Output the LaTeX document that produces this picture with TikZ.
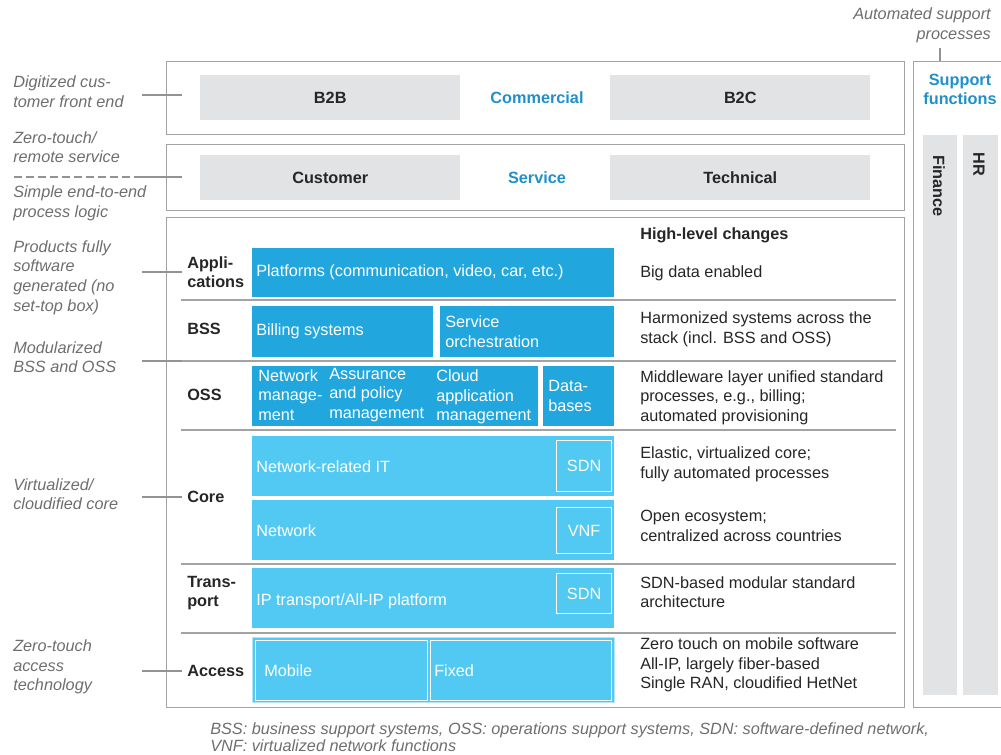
\documentclass[tikz,border=0pt]{standalone}
\usepackage{fontspec}
\setmainfont{Liberation Sans}
\usepackage{tikz}
\usetikzlibrary{positioning,calc}

\definecolor{darkblue}{HTML}{21A6DD}
\definecolor{lightblue}{HTML}{52C9F3}
\definecolor{paleblue}{HTML}{B4E6F8}
\definecolor{boxgrey}{HTML}{E1E3E4}
\definecolor{headblue}{HTML}{2190C9}
\definecolor{framegrey}{HTML}{A3A3A3}
\definecolor{notegrey}{HTML}{6E6E6E}
\definecolor{textblack}{HTML}{262626}

\newcommand{\basefont}{\fontsize{12.2}{14.7}\selectfont}

\tikzset{
  boxsize/.style 2 args={minimum width=#1*0.75pt, minimum height=#2*0.75pt},
  frame/.style={draw=framegrey, line width=0.9pt, anchor=north west, inner sep=0pt},
  greybox/.style={fill=boxgrey, anchor=north west, inner sep=0pt, font=\basefont\bfseries, text=textblack},
  darkbox/.style={fill=darkblue, anchor=north west, inner sep=0pt},
  lightbox/.style={fill=lightblue, anchor=north west, inner sep=0pt},
  tagbox/.style={draw=white, line width=0.9pt, anchor=north west, inner sep=0pt, text=white, font=\basefont},
  boxtext/.style={anchor=west, inner sep=0pt, align=left, text=white, font=\basefont},
  rowlabel/.style={anchor=west, inner xsep=3.75pt, inner ysep=0pt, align=left, font=\basefont\bfseries, text=textblack},
  note/.style={anchor=west, inner sep=0pt, align=left, font=\basefont\itshape, text=notegrey},
  change/.style={anchor=west, inner sep=0pt, align=left, font=\basefont, text=textblack},
  head/.style={inner sep=0pt, align=center, font=\basefont\bfseries, text=headblue},
  leader/.style={draw=framegrey!90!black, line width=0.9pt},
  rule/.style={draw=framegrey, line width=0.9pt},
}

\begin{document}
\begin{tikzpicture}[x=0.75pt, y=-0.75pt]
\useasboundingbox (0,0) rectangle (1001,755);

% frames
\node (comm) at (166,61) [frame, boxsize={738}{73}] {};
\node (serv) at (166,144) [frame, boxsize={738}{66}] {};
\node (stack) at (166,217) [frame, boxsize={738}{490}] {};
\node (supp) at (913,61) [frame, boxsize={91}{646}] {};

% commercial and service layers
\node (b2b) at (200,75) [greybox, boxsize={260}{45}] {B2B};
\node (b2c) at (610,75) [greybox, boxsize={260}{45}] {B2C};
\node (commT) at (537,98) [head] {Commercial};
\node (cust) at (200,155) [greybox, boxsize={260}{45}] {Customer};
\node (tech) at (610,155) [greybox, boxsize={260}{45}] {Technical};
\node (servT) at (537,178) [head] {Service};

% support functions
\node (suppT) at (960,89.5) [head] {Support\\functions};
\node (fin) at (923,135) [fill=boxgrey, anchor=north west, inner sep=0pt, boxsize={34}{560}] {};
\node (hr) at (963,135) [fill=boxgrey, anchor=north west, inner sep=0pt, boxsize={35}{560}] {};
\node (finT) at (939,155) [rotate=-90, anchor=west, inner sep=0pt, font=\basefont\bfseries, text=textblack] {Finance};
\node (hrT) at (979,152) [rotate=-90, anchor=west, inner sep=0pt, font=\basefont\bfseries, text=textblack] {HR};
\node (auto) at (991,25) [note, anchor=east, align=right] {Automated support\\processes};
\coordinate (tick) at (940,48);
\draw[leader] (tick) -- (tick |- supp.north);

% rows of the stack
\foreach \y in {300,361,430,564,633}
  \draw[rule] (181,\y) -- (896,\y);

\node (apps) at (182,272) [rowlabel] {Appli-\\cations};
\node (bss) at (182,329) [rowlabel] {BSS};
\node (oss) at (182,395) [rowlabel] {OSS};
\node (core) at (182,497) [rowlabel] {Core};
\node (trans) at (182,593) [rowlabel] {Trans-\\port};
\node (access) at (182,671) [rowlabel] {Access};
\node (hlc) at (640,235) [change, font=\basefont\bfseries] {High-level changes};

% IT blocks
\node (plat) at (252,248) [darkbox, boxsize={362}{49}] {};
\node (platT) at ([xshift=3pt]plat.west) [boxtext] {Platforms (communication, video, car, etc.)};
\node (bill) at (252,306) [darkbox, boxsize={181}{51}] {};
\node (billT) at ([xshift=3pt]bill.west) [boxtext] {Billing systems};
\node (orch) at (440,306) [darkbox, boxsize={174}{51}] {};
\node (orchT) at ([xshift=3.75pt]orch.west) [boxtext] {Service\\orchestration};
\node (ossb) at (252,366) [darkbox, boxsize={286}{60}] {};
\node (netm) at (258,395) [boxtext] {Network\\manage-\\ment};
\node (assur) at (329,395) [boxtext] {Assurance\\and policy\\management};
\node (cloud) at (436,397) [boxtext] {Cloud\\application\\management};
\node (db) at (543,366) [darkbox, boxsize={71}{60}] {};
\node (dbT) at ([xshift=3.75pt]db.west) [boxtext] {Data-\\bases};

% network blocks
\node (nit) at (252,436) [lightbox, boxsize={362}{60}] {};
\node (nitT) at ([xshift=3pt]nit.west) [boxtext] {Network-related IT};
\node (sdn1) at (556,440) [tagbox, boxsize={55}{51}] {SDN};
\node (net) at (252,500) [lightbox, boxsize={362}{60}] {};
\node (netT) at ([xshift=3pt]net.west) [boxtext] {Network};
\node (vnf) at (556,507) [tagbox, boxsize={55}{46}] {VNF};
\node (ipt) at (252,568) [lightbox, boxsize={362}{60}] {};
\node (iptT) at ([xshift=3pt, yshift=-2pt]ipt.west) [boxtext] {IP transport/All-IP platform};
\node (sdn2) at (556,573) [tagbox, boxsize={55}{40}] {SDN};
\node (acc) at (252,637) [lightbox, draw=paleblue, line width=0.9pt, boxsize={362}{65}] {};
\node (mob) at (255,640) [lightbox, draw=white, line width=0.9pt, boxsize={172}{60}] {};
\node (mobT) at (264,671) [boxtext] {Mobile};
\node (fix) at (430,640) [lightbox, draw=white, line width=0.9pt, boxsize={181}{60}] {};
\node (fixT) at (434,671) [boxtext] {Fixed};

% high-level changes
\node (ch1) at (640,273) [change] {Big data enabled};
\node (ch2) at (640,329) [change] {Harmonized systems across the\\stack (incl. BSS and OSS)};
\node (ch3) at (640,397.5) [change] {Middleware layer unified standard\\processes, e.g., billing;\\automated provisioning};
\node (ch4) at (640,464) [change] {Elastic, virtualized core;\\fully automated processes};
\node (ch5) at (640,526) [change] {Open ecosystem;\\centralized across countries};
\node (ch6) at (640,592) [change] {SDN-based modular standard\\architecture};
\node (ch7) at (640,665) [change] {Zero touch on mobile software\\All-IP, largely fiber-based\\Single RAN, cloudified HetNet};

% notes on the left
\node (n1) at (13,91.5) [note] {Digitized cus-\\tomer front end};
\node (n2) at (13,147) [note] {Zero-touch/\\remote service};
\node (n3) at (13,203) [note] {Simple end-to-end\\process logic};
\node (n4) at (13,277.5) [note] {Products fully\\software\\generated (no\\set-top box)};
\node (n5) at (13,357) [note] {Modularized\\BSS and OSS};
\node (n6) at (13,494) [note] {Virtualized/\\cloudified core};
\node (n7) at (13,667) [note] {Zero-touch\\access\\technology};

\coordinate (commL) at (182,95);
\coordinate (servL) at (182,177);
\coordinate (bssL) at (182,361);
\draw[leader] (commL) -- ++(-40,0);
\draw[leader] (servL) -- ++(-40,0) coordinate (servM);
\draw[leader, dash pattern=on 6pt off 3pt] (servM) -- ++(-129,0);
\draw[leader] (apps.west) -- ++(-40,0);
\draw[leader] (bssL) -- ++(-40,0);
\draw[leader] (core.west) -- ++(-40,0);
\draw[leader] (access.west) -- ++(-40,0);

\node (foot) at (210,737.5) [note, font=\fontsize{12.2}{13}\selectfont\itshape] {BSS: business support systems, OSS: operations support systems, SDN: software-defined network,\\VNF: virtualized network functions};
\end{tikzpicture}
\end{document}
